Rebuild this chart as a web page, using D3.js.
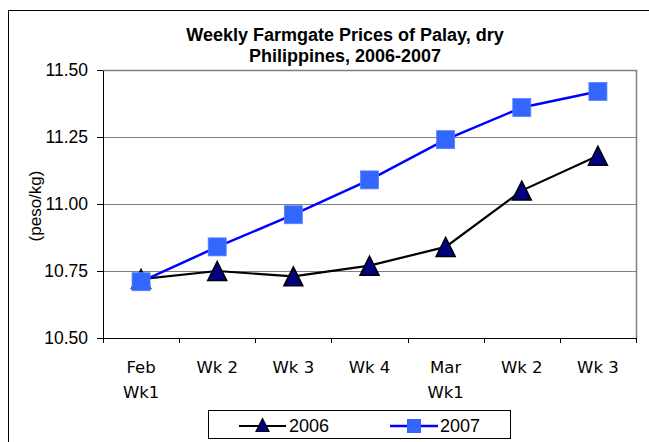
<!DOCTYPE html>
<meta charset="utf-8">
<style>
	body {
	margin: 0;
	background-color: #fff;
	}
	.frame {
	fill: none;
	stroke: #000;
	stroke-width: 1;
	}
	.grid line {
	stroke: #808080;
	stroke-width: 1;
	}
	.border {
	fill: none;
	stroke: #808080;
	stroke-width: 1.5;
	}
	.axis path, .axis line {
	stroke: #000;
	shape-rendering: crispEdges;
	}
	.title {
	font: bold 18px "Liberation Sans", Arial, sans-serif;
	fill: #000;
	}
	.ytick {
	font: 17.5px "Liberation Sans", Arial, sans-serif;
	}
	.xlab {
	font: 16.5px "DejaVu Sans", sans-serif;
	fill: #000;
	}
	.ylabel {
	font: 17px "Liberation Sans", Arial, sans-serif;
	fill: #000;
	}
	.legend text {
	font: 18px "Liberation Sans", Arial, sans-serif;
	fill: #000;
	}
</style>
<body>
	<script src="https://cdn.jsdelivr.net/npm/d3@7"></script>
	<script>
		// data
		var weeks = ["Feb|Wk1", "Wk 2", "Wk 3", "Wk 4", "Mar|Wk1", "Wk 2 ", "Wk 3 "];
		var prices2006 = [10.72, 10.75, 10.73, 10.77, 10.84, 11.05, 11.18];
		var prices2007 = [10.71, 10.84, 10.96, 11.09, 11.24, 11.36, 11.42];
		var yTicks = [10.50, 10.75, 11.00, 11.25, 11.50];
		var seriesNames = ["2006", "2007"];

		var width = 649,
		    height = 442;

		var plotLeft = 103, plotRight = 636, plotTop = 70, plotBottom = 338;

		var x = d3.scaleBand()
		    .domain(weeks)
		    .range([plotLeft, plotRight]);

		var y = d3.scaleLinear()
		    .domain([10.5, 11.5])
		    .range([plotBottom, plotTop]);

		var svg = d3.select("body").append("svg")
		    .attr("width", width)
		    .attr("height", height);

		// outer chart frame (only left and top edges fall inside the picture)
		svg.append("path")
		    .attr("class", "frame")
		    .attr("d", "M8.5," + height + "V10.5H" + width);

		// gridlines
		svg.append("g").attr("class", "grid")
		    .selectAll("line").data(yTicks.slice(1, -1))
		  .enter().append("line")
		    .attr("x1", plotLeft).attr("x2", plotRight)
		    .attr("y1", function(d) { return Math.round(y(d)) + 0.5; })
		    .attr("y2", function(d) { return Math.round(y(d)) + 0.5; });

		// top and right border of plot area
		svg.append("path")
		    .attr("class", "border")
		    .attr("d", "M" + plotLeft + "," + (plotTop + 0.5) + "H" + (plotRight + 0.5) + "V" + plotBottom);

		// y axis
		var yAxis = svg.append("g")
		    .attr("class", "axis ytick")
		    .attr("transform", "translate(" + plotLeft + ",0)")
		    .call(d3.axisLeft(y)
		      .tickValues(yTicks)
		      .tickSize(6)
		      .tickSizeOuter(0)
		      .tickPadding(9)
		      .tickFormat(d3.format(".2f")));
		yAxis.attr("font-size", null).attr("font-family", null);
		yAxis.selectAll("text").attr("fill", "#000");

		// x axis: ticks on band edges, labels at band centres
		var xAxis = svg.append("g").attr("class", "axis");
		xAxis.append("line")
		    .attr("x1", plotLeft).attr("x2", plotRight)
		    .attr("y1", plotBottom).attr("y2", plotBottom);
		var edges = weeks.map(function(d) { return x(d); }).concat([x.range()[1]]);
		xAxis.selectAll(".xtick").data(edges)
		  .enter().append("line")
		    .attr("class", "xtick")
		    .attr("x1", function(d) { return Math.round(d) + 0.5; })
		    .attr("x2", function(d) { return Math.round(d) + 0.5; })
		    .attr("y1", plotBottom).attr("y2", plotBottom + 5);

		var xl = svg.append("g").selectAll("text").data(weeks)
		  .enter().append("text")
		    .attr("class", "xlab")
		    .attr("text-anchor", "middle")
		    .attr("transform", function(d) {
		      return "translate(" + (x(d) + x.bandwidth() / 2) + ",373)";
		    });
		xl.selectAll("tspan")
		    .data(function(d) { return d.trim().split("|"); })
		  .enter().append("tspan")
		    .attr("x", 0)
		    .attr("y", function(d, i) { return i * 24.5; })
		    .text(function(d) { return d; });

		// y label
		svg.append("text")
		    .attr("class", "ylabel")
		    .attr("text-anchor", "middle")
		    .attr("transform", "translate(35,206) rotate(-90)")
		    .attr("dy", "0.35em")
		    .text("(peso/kg)");

		// title
		svg.append("text")
		    .attr("class", "title")
		    .attr("text-anchor", "middle")
		    .attr("x", 345).attr("y", 41)
		    .text("Weekly Farmgate Prices of Palay, dry");
		svg.append("text")
		    .attr("class", "title")
		    .attr("text-anchor", "middle")
		    .attr("x", 345).attr("y", 62)
		    .text("Philippines, 2006-2007");

		var cx = function(d, i) { return x(weeks[i]) + x.bandwidth() / 2; };

		function triangle(s) {
		  var h = s / 2;
		  return "M0," + (-h) + "L" + h + "," + h + "L" + (-h) + "," + h + "Z";
		}

		var line = d3.line()
		    .x(cx)
		    .y(function(d) { return y(d); });

		// 2006 series
		svg.append("path")
		    .datum(prices2006)
		    .attr("fill", "none")
		    .attr("stroke", "#000")
		    .attr("stroke-width", 2.2)
		    .attr("d", line);
		svg.append("g").selectAll("path").data(prices2006)
		  .enter().append("path")
		    .attr("d", triangle(19))
		    .attr("transform", function(d, i) { return "translate(" + cx(d, i) + "," + y(d) + ")"; })
		    .attr("fill", "#000080")
		    .attr("stroke", "#000")
		    .attr("stroke-width", 1.5)
		    .attr("stroke-linejoin", "miter");

		// 2007 series
		svg.append("path")
		    .datum(prices2007)
		    .attr("fill", "none")
		    .attr("stroke", "#0000ff")
		    .attr("stroke-width", 2.5)
		    .attr("d", line);
		svg.append("g").selectAll("rect").data(prices2007)
		  .enter().append("rect")
		    .attr("x", function(d, i) { return cx(d, i) - 9; })
		    .attr("y", function(d) { return y(d) - 9; })
		    .attr("width", 18).attr("height", 18)
		    .attr("fill", "#3366ff")
		    .attr("stroke", "#5580ff")
		    .attr("stroke-width", 0.8);

		// legend
		var legend = svg.append("g").attr("class", "legend");
		legend.append("rect")
		    .attr("x", 208.5).attr("y", 410.5)
		    .attr("width", 302).attr("height", 28)
		    .attr("fill", "#fff")
		    .attr("stroke", "#000")
		    .attr("stroke-width", 1);

		legend.append("line")
		    .attr("x1", 239).attr("x2", 286)
		    .attr("y1", 426).attr("y2", 426)
		    .attr("stroke", "#000").attr("stroke-width", 2.2);
		legend.append("path")
		    .attr("d", triangle(13))
		    .attr("transform", "translate(262.5,425)")
		    .attr("fill", "#000080")
		    .attr("stroke", "#000")
		    .attr("stroke-width", 1.2);
		legend.append("text")
		    .attr("x", 289).attr("y", 432)
		    .text(seriesNames[0]);

		legend.append("line")
		    .attr("x1", 390).attr("x2", 438)
		    .attr("y1", 426).attr("y2", 426)
		    .attr("stroke", "#0000ff").attr("stroke-width", 2.5);
		legend.append("rect")
		    .attr("x", 407).attr("y", 419)
		    .attr("width", 14).attr("height", 14)
		    .attr("fill", "#3366ff");
		legend.append("text")
		    .attr("x", 440).attr("y", 432)
		    .text(seriesNames[1]);
	</script>
</body>
